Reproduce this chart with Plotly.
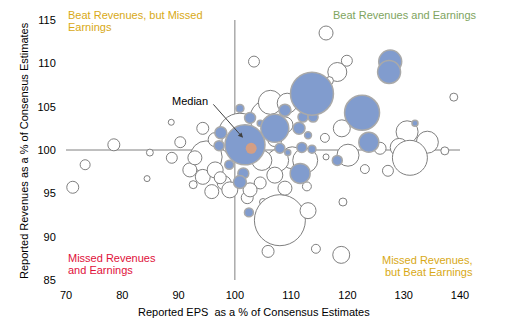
import plotly.graph_objects as go

# ---- Data (EPS % of consensus, Revenue % of consensus, market-cap weight) ----
other_eps = [71.2, 73.4, 78.5, 84.9, 84.4, 88.7, 90.3, 94.3, 88.8, 103.4,
             94.9, 92.6, 94.3, 95.9, 98.1, 102.2, 105.0, 108.0, 113.0, 105.9,
             114.4, 118.9, 119.2, 112.8, 123.1, 127.2, 120.1, 116.2, 110.2, 118.2,
             119.9, 116.2, 138.9, 130.6, 134.2, 129.2, 131.1, 137.3, 125.8, 100.9,
             105.9, 106.3, 109.3, 116.0, 119.0, 112.5, 107.6, 99.1, 96.5, 104.5,
             107.1, 92.0, 92.9, 96.5, 108.9, 116.8, 104.8, 102.7, 108.9, 97.4,
             107.1]
other_rev = [95.7, 98.3, 100.6, 99.7, 96.7, 103.2, 100.9, 102.5, 99.1, 110.2,
             99.2, 96.0, 96.9, 95.2, 96.2, 94.5, 94.0, 91.9, 93.0, 88.3,
             88.6, 87.9, 94.0, 95.8, 97.8, 97.6, 99.4, 99.2, 99.1, 109.0,
             110.3, 113.5, 106.1, 102.1, 100.9, 100.3, 99.1, 99.9, 100.2, 101.7,
             103.7, 105.5, 105.4, 101.4, 102.5, 98.8, 98.8, 95.4, 97.7, 96.2,
             97.1, 97.7, 99.1, 101.2, 102.9, 108.0, 98.8, 95.4, 95.6, 96.8,
             101.2]
other_cap = [36, 25, 36, 12, 9, 9, 30, 36, 30, 30,
             256, 16, 56, 49, 49, 36, 12, 650, 64, 36,
             20, 72, 16, 20, 20, 30, 121, 9, 121, 90,
             30, 49, 16, 121, 121, 81, 306, 16, 36, 484,
             324, 144, 100, 20, 72, 156, 121, 64, 64, 36,
             64, 49, 49, 49, 64, 16, 100, 49, 49, 36,
             49]

sector_eps = [101.8, 100.9, 102.7, 97.5, 104.5, 107.1, 108.9, 112.1, 113.9, 111.4,
              113.0, 111.9, 113.7, 111.6, 118.2, 113.7, 122.6, 123.8, 127.6, 127.4,
              132.0, 99.0, 101.5, 100.9, 102.5, 108.0, 109.4, 97.2]
sector_rev = [100.6, 104.8, 103.7, 102.0, 103.1, 102.5, 104.6, 103.8, 103.8, 102.5,
              101.7, 100.3, 100.1, 97.3, 98.8, 106.5, 104.3, 100.9, 110.2, 109.0,
              103.1, 98.3, 97.3, 96.3, 92.8, 100.2, 99.7, 100.5]
sector_cap = [400, 16, 30, 36, 9, 196, 36, 25, 25, 36,
              12, 25, 16, 100, 25, 462, 306, 100, 132, 132,
              9, 20, 30, 42, 20, 25, 9, 25]

median_eps = [102.9]
median_rev = [100.2]
median_cap = [30]

x_ticks = [70, 80, 90, 100, 110, 120, 130, 140]
y_ticks = [85, 90, 95, 100, 105, 110, 115]

FONT = "Arial, Liberation Sans, sans-serif"
SIZEREF = 0.5

fig = go.Figure()
fig.add_trace(go.Scatter(
    x=other_eps, y=other_rev, mode="markers", hoverinfo="skip",
    marker=dict(size=other_cap, sizemode="area", sizeref=SIZEREF,
                color="white", opacity=1,
                line=dict(color="#7f7f7f", width=1))))
fig.add_trace(go.Scatter(
    x=sector_eps, y=sector_rev, mode="markers", hoverinfo="skip",
    marker=dict(size=sector_cap, sizemode="area", sizeref=SIZEREF,
                color="#819cce", opacity=1,
                line=dict(color="#a9a9a9", width=1.5))))
fig.add_trace(go.Scatter(
    x=median_eps, y=median_rev, mode="markers", hoverinfo="skip",
    marker=dict(size=median_cap, sizemode="area", sizeref=SIZEREF,
                color="#f8a064", line=dict(width=0))))

# median cross-hair lines
fig.add_shape(type="line", x0=100, x1=100, y0=85, y1=115, xref="x", yref="y",
              line=dict(color="#808080", width=1), layer="below")
fig.add_shape(type="line", x0=70, x1=140, y0=100, y1=100, xref="x", yref="y",
              line=dict(color="#808080", width=1), layer="below")

gold = "#d8a916"
ann = [
    dict(text="Beat Revenues, but Missed", x=0, y=1.019, xanchor="left", color=gold),
    dict(text="Earnings", x=0, y=0.973, xanchor="left", color=gold),
    dict(text="Beat Revenues and Earnings", x=1.048, y=1.019, xanchor="right", color="#7ea45e"),
    dict(text="Missed Revenues", x=0, y=0.085, xanchor="left", color="#e0103a"),
    dict(text="and Earnings", x=0, y=0.0385, xanchor="left", color="#e0103a"),
    dict(text="Missed Revenues,", x=1.038, y=0.077, xanchor="right", color=gold),
    dict(text="but Beat Earnings", x=1.038, y=0.031, xanchor="right", color=gold),
]
for a in ann:
    fig.add_annotation(text=a["text"], x=a["x"], y=a["y"], xref="paper", yref="paper",
                       xanchor=a["xanchor"], yanchor="middle", showarrow=False,
                       font=dict(family=FONT, size=11, color=a["color"]))

# Median label + arrow
fig.add_annotation(text="Median", x=92.0, y=105.65, xref="x", yref="y",
                   showarrow=False, font=dict(family=FONT, size=11, color="black"))
fig.add_annotation(text="", x=101.45, y=101.4, xref="x", yref="y",
                   ax=-31, ay=-35, showarrow=True, arrowhead=2, arrowsize=1,
                   arrowwidth=1, arrowcolor="#404040")

# axis titles
fig.add_annotation(text="Reported EPS&nbsp; as a % of Consensus Estimates",
                   x=0.477, y=-0.123, xref="paper", yref="paper",
                   xanchor="center", yanchor="middle", showarrow=False,
                   font=dict(family=FONT, size=11, color="black"))
fig.add_annotation(text="Reported Revenues as a % of Consensus Estimates",
                   x=-0.1066, y=0.5, xref="paper", yref="paper", textangle=-90,
                   xanchor="center", yanchor="middle", showarrow=False,
                   font=dict(family=FONT, size=11, color="black"))

fig.update_layout(
    width=522, height=336,
    margin=dict(l=66, r=62, t=20, b=56),
    paper_bgcolor="white", plot_bgcolor="white",
    showlegend=False,
    font=dict(family=FONT, size=11, color="black"),
    xaxis=dict(range=[70, 140], tickvals=x_ticks, showgrid=False, zeroline=False,
               showline=False, ticks="outside", ticklen=5, tickcolor="rgba(0,0,0,0)",
               tickfont=dict(family=FONT, size=11, color="black")),
    yaxis=dict(range=[85, 115], tickvals=y_ticks, showgrid=False, zeroline=False,
               showline=False, ticks="outside", ticklen=7, tickcolor="rgba(0,0,0,0)",
               tickfont=dict(family=FONT, size=11, color="black")),
)

fig.write_html("out.html")
